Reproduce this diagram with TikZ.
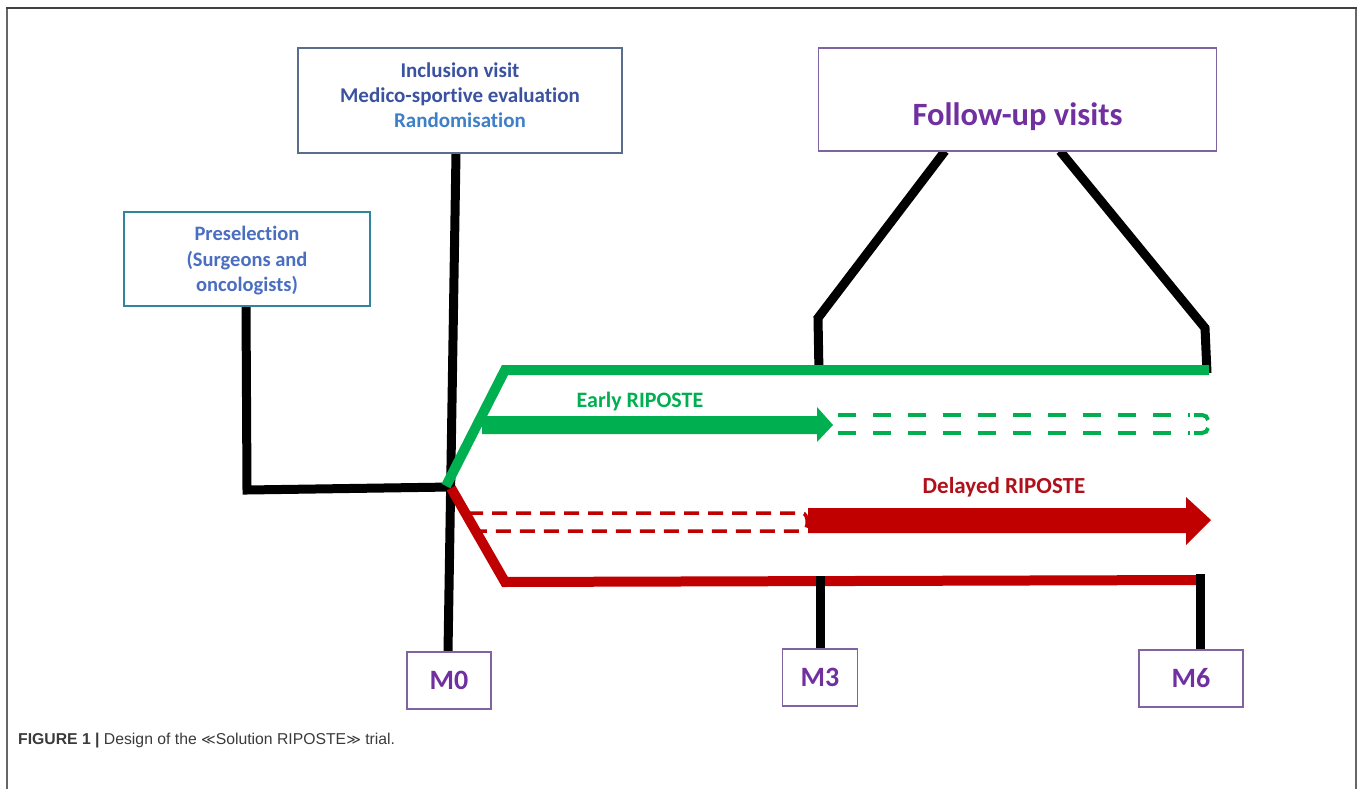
\documentclass[tikz,border=0pt]{standalone}
\usepackage{fontspec}
\setmainfont{Carlito}[Ligatures=NoCommon]
\newfontfamily\capfont{Liberation Sans}
\newfontfamily\symfont{DejaVu Sans}
\usetikzlibrary{calc}
\definecolor{gr}{HTML}{00B050}
\definecolor{rd}{HTML}{C00000}
\definecolor{dkblue}{HTML}{3A52A0}
\definecolor{ltblue}{HTML}{3F7FC8}
\definecolor{pblue}{HTML}{4A6EC0}
\definecolor{tealb}{HTML}{31849B}
\definecolor{slateb}{HTML}{5A6E8C}
\definecolor{purp}{HTML}{8064A2}
\definecolor{ptext}{HTML}{7030A0}
\definecolor{delred}{HTML}{B0101A}
\definecolor{capgray}{HTML}{3A3A3A}
\tikzset{
  box/.style={draw, line width=1.3pt, minimum width=#1, inner sep=0pt, fill=white},
  blk/.style={line width=9pt, black},
  grl/.style={line width=10pt, gr},
  rdl/.style={line width=10pt, rd},
  mtext/.style={font=\bfseries\fontsize{28}{30}\selectfont, text=ptext},
}
\begin{document}
\begin{tikzpicture}[x=1pt,y=-1pt]
\useasboundingbox (0,0) rectangle (1358,789);
% frame
\draw[line width=1.5pt, gray!80!black] (7,789) -- (7,8);
\draw[line width=1.5pt, gray!80!black] (1356,8) -- (1356,789);
\draw[line width=1.5pt, black!75] (6.25,8) -- (1356.75,8);

% coordinates
\coordinate (m0top) at (456,153);
\coordinate (m0bot) at (448,652);
\coordinate (preTop) at (246,305);
\coordinate (preCorner) at (247,490);
\coordinate (junc) at (452,487);
\coordinate (fl1) at (945,151);
\coordinate (fl2) at (818,318);
\coordinate (fl3) at (819,373);
\coordinate (fr1) at (1060,151);
\coordinate (fr2) at (1205,328);
\coordinate (fr3) at (1207,373);
\coordinate (m3a) at (820,576);
\coordinate (m3b) at (820,650);
\coordinate (m6a) at (1200,574);
\coordinate (m6b) at (1200,651);
\coordinate (gs) at (446,486);
\coordinate (gc) at (505,370);
\coordinate (ge) at (1209,370);
\coordinate (rs) at (451,488);
\coordinate (rc) at (505,582);
\coordinate (re) at (1203,580);

% black connectors
\draw[blk] (m0top) -- (m0bot);
\draw[blk] (preTop) -- (preCorner) -- (junc);
\draw[blk] (fl1) -- (fl2) -- (fl3);
\draw[blk] (fr1) -- (fr2) -- (fr3);

% green & red branches
\draw[grl] (gs) -- (gc) -- (ge);
\draw[rdl] (rs) -- (rc) -- (re);

\draw[blk] (m3a) -- (m3b);
\draw[blk] (m6a) -- (m6b);

% early arrow
\fill[gr] (482,416) -- (817,416) -- (817,407) -- (833,425) -- (817,442) -- (817,434) -- (482,434) -- cycle;
\draw[gr, line width=4pt, dash pattern=on 18pt off 17pt] (838,415) -- (1190,415);
\draw[gr, line width=4pt, dash pattern=on 18pt off 17pt] (838,433) -- (1190,433);
\draw[gr, line width=4pt] (1194,415) -- (1202,415) to[out=0,in=90] (1208,420);
\draw[gr, line width=4pt] (1194,433) -- (1202,433) to[out=0,in=-90] (1208,428);
\node[font=\bfseries\fontsize{22}{24}\selectfont, text=gr] (early) at (640,402) {Early RIPOSTE};

% delayed
\draw[rd, line width=3.5pt, dash pattern=on 15pt off 9pt] (468,513) -- (802,513) to[out=0,in=0] (802,531) -- (478,531);
\fill[rd] (808,508) -- (1186,508) -- (1186,497) -- (1211,520) -- (1186,545) -- (1186,533) -- (808,533) -- cycle;
\node[font=\bfseries\fontsize{23}{25}\selectfont, text=delred] (delayed) at (1004,487) {Delayed RIPOSTE};

% boxes
\node[box=324pt, minimum height=105pt, draw=slateb] (incl) at (460,100.5) {};
\node[font=\bfseries\fontsize{21}{25}\selectfont, text=dkblue, align=center] at (460,95) {Inclusion visit\\Medico-sportive evaluation\\{\color{ltblue}Randomisation}};

\node[box=246pt, minimum height=94pt, draw=tealb, line width=1.8pt] (pre) at (247,259) {};
\node[font=\bfseries\fontsize{20.5}{25.5}\selectfont, text=pblue, align=center] at (247,261) {Preselection\\(Surgeons and\\oncologists)};

\node[box=398pt, minimum height=103pt, draw=purp] (fu) at (1017.5,99.5) {};
\node[font=\bfseries\fontsize{32.5}{34}\selectfont, text=ptext] at (1017.5,117) {Follow-up visits};

\node[box=84pt, minimum height=57pt, draw=purp, mtext] (M0) at (449,680.5) {M0};
\node[box=75pt, minimum height=57pt, draw=purp, mtext] (M3) at (820,677.5) {M3};
\node[box=104pt, minimum height=57pt, draw=purp, mtext] (M6) at (1191,678.5) {M6};

% caption
\node[anchor=west, inner sep=0pt, font=\capfont\fontsize{15.75}{17}\selectfont, text=capgray] (cap) at (18,741) {\textbf{FIGURE 1 |} Design of the {\symfont\fontsize{14}{17}\selectfont ≪}Solution RIPOSTE{\symfont\fontsize{14}{17}\selectfont ≫} trial.};
\end{tikzpicture}
\end{document}
